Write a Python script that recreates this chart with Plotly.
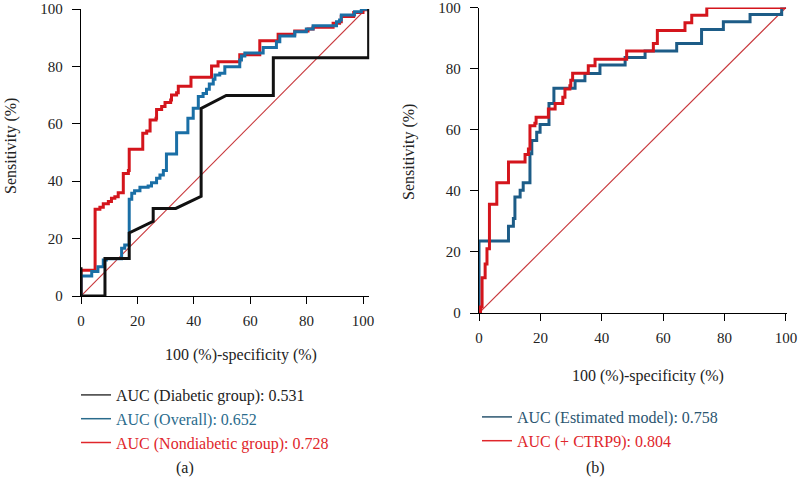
import plotly.graph_objects as go

# ---------------- Panel (a) data (100-specificity %, sensitivity %) ----------------
diab_x = [0, 0, 8.5, 8.5, 17.1, 17.1, 25.6, 25.6, 33.6, 42.6, 42.6, 51.5, 68.2, 68.2, 102, 102]
diab_y = [10, 0, 0, 13.1, 13.1, 22, 26, 30.5, 30.5, 34.7, 65.4, 69.9, 69.9, 83, 83, 100]

over_x = [0, 0, 3.8, 6, 7.9, 9, 14.4, 15.5, 17.1, 18, 19, 20.9, 23.8, 25, 26.8, 28, 29.2,
          30.3, 33.9, 37.9, 39.8, 41.6, 43.3, 44.5, 45.5, 46.9, 47.5, 49.2, 51, 56.3, 56.9,
          58.1, 64.6, 69.3, 70.5, 75.8, 79.9, 82.3, 90.6, 91.7, 92.3, 97, 99.4, 101.2]
over_y = [0, 7, 8.5, 10.2, 12.5, 13, 16.6, 17.8, 33.7, 35.8, 36.7, 37.9, 38.3, 39.5, 41, 42.2, 43.7,
          49.5, 56.9, 61.9, 65.4, 69.5, 70.6, 72, 73.9, 75.5, 77, 77.6, 79.9, 82.2, 83.6,
          84.7, 86.6, 88.6, 90.6, 92.1, 93, 94.2, 95.6, 96.2, 97.9, 99, 99.9, 100.5]

nond_x = [0, 0, 5, 6.7, 7.9, 9.7, 10.8, 12, 13.2, 15, 16.8, 17.1, 21.9, 23.3, 24.5, 26.6, 26.8,
          28.6, 29.8, 31.8, 32.1, 33.9, 34.5, 39, 46.3, 48.6, 56.3, 63.4, 69.9, 75.8, 80.5,
          82.3, 89.4, 91.7, 92.3, 96.7, 100, 101.2]
nond_y = [0, 9, 30.2, 30.9, 32.1, 32.9, 34.1, 34.6, 36, 42.7, 43.7, 51.1, 56.7, 57.5, 61.3, 61.9, 65,
          66, 67.4, 68.3, 70, 70.8, 73.1, 76.2, 80.1, 81.6, 84.1, 88.9, 91.2, 92.3, 93,
          93.6, 95, 95.6, 97.4, 98.8, 99.7, 100.3]

# ---------------- Panel (b) data ----------------
est_x = [0, 0, 9.6, 11.2, 11.7, 13.4, 14.4, 16.6, 17.2, 18.8, 19.9, 22.8, 24.4, 31.3, 34.5,
         39.4, 47.6, 54.1, 64.4, 72.5, 79.6, 88.3, 98.6, 100]
est_y = [0, 23.6, 28.4, 30.9, 38, 40.2, 42.6, 52.1, 56.5, 59.2, 61.7, 68.6, 73.6, 76, 78.4,
         81.2, 83.6, 85.8, 88.2, 92.8, 95.3, 97.7, 100, 100]

ctrp_x = [0, 0.5, 1, 2, 2.6, 3.4, 5.8, 9.6, 15, 16.1, 16.6, 18.2, 18.6, 22.6, 24.8, 27.3, 28,
          29.6, 29.9, 30.5, 35.6, 37.8, 48.1, 56.8, 58.1, 67.1, 69.3, 74.2, 100]
ctrp_y = [0, 2, 11.5, 16, 21, 35.6, 42.6, 49.4, 51.9, 53.7, 61.3, 62.1, 64.1, 66.8, 68.6, 70.6, 73.3,
          74.4, 76.2, 78.5, 80.9, 83.1, 85.8, 88.2, 92.5, 95, 97.5, 100, 100]

ref_a_x = [0, 101]
ref_a_y = [0, 100]
ref_b_x = [0, 100]
ref_b_y = [0, 100]

tick_vals = [0, 20, 40, 60, 80, 100]

names_a = ["AUC (Diabetic group): 0.531", "AUC (Overall): 0.652", "AUC (Nondiabetic group): 0.728"]
names_b = ["AUC (Estimated model): 0.758", "AUC (+ CTRP9): 0.804"]

FONT = "Liberation Serif"
BLACK = "#111111"
BLUE_A = "#1a6fa6"
BLUE_B = "#1d5c87"
RED = "#d4151c"
DIAG = "#c8383c"

fig = go.Figure()

# diagonals
fig.add_trace(go.Scatter(x=ref_a_x, y=ref_a_y, mode="lines", line=dict(color=DIAG, width=1.1),
                         showlegend=False, xaxis="x", yaxis="y", hoverinfo="skip"))
fig.add_trace(go.Scatter(x=ref_b_x, y=ref_b_y, mode="lines", line=dict(color=DIAG, width=1.1),
                         showlegend=False, xaxis="x2", yaxis="y2", hoverinfo="skip"))

# panel a curves
fig.add_trace(go.Scatter(x=nond_x, y=nond_y, mode="lines", line=dict(color=RED, width=3, shape="hv"),
                         showlegend=False, xaxis="x", yaxis="y", cliponaxis=False))
fig.add_trace(go.Scatter(x=over_x, y=over_y, mode="lines", line=dict(color=BLUE_A, width=3, shape="hv"),
                         showlegend=False, xaxis="x", yaxis="y", cliponaxis=False))
fig.add_trace(go.Scatter(x=diab_x, y=diab_y, mode="lines", line=dict(color=BLACK, width=3),
                         showlegend=False, xaxis="x", yaxis="y", cliponaxis=False))

# panel b curves
fig.add_trace(go.Scatter(x=est_x, y=est_y, mode="lines", line=dict(color=BLUE_B, width=3, shape="hv"),
                         showlegend=False, xaxis="x2", yaxis="y2", cliponaxis=False))
fig.add_trace(go.Scatter(x=ctrp_x, y=ctrp_y, mode="lines", line=dict(color=RED, width=3, shape="hv"),
                         showlegend=False, xaxis="x2", yaxis="y2", cliponaxis=False))

# legend entries
leg_a_line = ["#3a3a3a", "#2a6b8c", "#e0262b"]
leg_a_text = ["#222222", "#2a6b8c", "#e0262b"]
for n, lc, tc in zip(names_a, leg_a_line, leg_a_text):
    fig.add_trace(go.Scatter(x=[None], y=[None], mode="lines", line=dict(color=lc, width=1.5),
                             name=f"<span style='color:{tc}'>{n}</span>", legend="legend",
                             xaxis="x", yaxis="y"))
leg_b_line = ["#2b5570", "#e0262b"]
leg_b_text = ["#2b5570", "#e0262b"]
for n, lc, tc in zip(names_b, leg_b_line, leg_b_text):
    fig.add_trace(go.Scatter(x=[None], y=[None], mode="lines", line=dict(color=lc, width=1.5),
                             name=f"<span style='color:{tc}'>{n}</span>", legend="legend2",
                             xaxis="x2", yaxis="y2"))

W, H = 798, 478


def px(xp):
    return xp / W


def py(yp):
    return 1 - yp / H


axis_common = dict(showline=True, linecolor="black", linewidth=1.3, ticks="outside",
                   tickcolor="black", tickwidth=1.2, showgrid=False, zeroline=False,
                   ticklabeloverflow="allow",
                   tickvals=tick_vals, tickfont=dict(family=FONT, size=15, color="#222222"))

fig.update_layout(
    width=W, height=H, margin=dict(l=0, r=0, t=0, b=0, autoexpand=False),
    paper_bgcolor="white", plot_bgcolor="white",
    font=dict(family=FONT, size=16, color="#222222"),
    xaxis=dict(domain=[px(81), px(369.2)], range=[0, 102.2], anchor="y", ticklen=7,
               ticklabelstandoff=4, automargin=False, **axis_common),
    yaxis=dict(domain=[py(296), py(9)], range=[0, 100], anchor="x", ticklen=8,
               ticklabelstandoff=6, automargin=False, **axis_common),
    xaxis2=dict(domain=[px(479), px(786.9)], range=[0, 100.3], anchor="y2", ticklen=7,
                ticklabelstandoff=4, automargin=False, **axis_common),
    yaxis2=dict(domain=[py(313), py(7.5)], range=[0, 100], anchor="x2", ticklen=8,
                ticklabelstandoff=6, automargin=False, **axis_common),
    legend=dict(x=px(76), y=py(378), xanchor="left", yanchor="top", bgcolor="rgba(0,0,0,0)",
                font=dict(family=FONT, size=16), tracegroupgap=0, itemclick=False),
    legend2=dict(x=px(477), y=py(400), xanchor="left", yanchor="top", bgcolor="rgba(0,0,0,0)",
                 font=dict(family=FONT, size=16), tracegroupgap=0, itemclick=False),
    showlegend=True,
)

ann = [
    dict(text="100 (%)-specificity (%)", x=px(241), y=py(355), xanchor="center", yanchor="middle"),
    dict(text="100 (%)-specificity (%)", x=px(648), y=py(376), xanchor="center", yanchor="middle"),
    dict(text="Sensitivity (%)", x=0, y=py(146), textangle=-90, xanchor="left", yanchor="middle"),
    dict(text="Sensitivity (%)", x=px(409), y=py(152), textangle=-90, xanchor="center", yanchor="middle"),
    dict(text="(a)", x=px(185), y=0, xanchor="center", yanchor="bottom", borderpad=0),
    dict(text="(b)", x=px(595), y=0, xanchor="center", yanchor="bottom", borderpad=0),
]
for a in ann:
    fig.add_annotation(xref="paper", yref="paper", showarrow=False,
                       font=dict(family=FONT, size=16, color="#222222"), **a)

fig.write_html("out.html", config={"displayModeBar": False},
               post_script="document.body.style.margin='0';")
